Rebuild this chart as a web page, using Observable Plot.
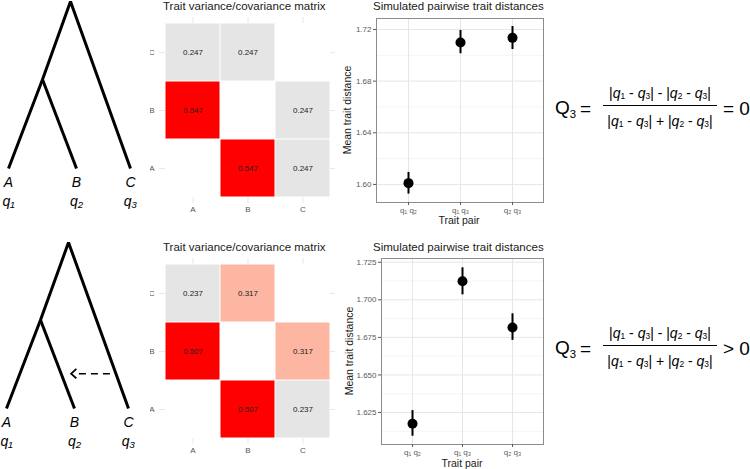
<!DOCTYPE html>
<html><head><meta charset="utf-8">
<script src="https://cdn.jsdelivr.net/npm/d3@7"></script>
<script src="https://cdn.jsdelivr.net/npm/@observablehq/plot@0.6"></script>
<style>
body{margin:0;background:#fff;}
#root{position:relative;width:750px;height:469px;overflow:hidden;font-family:"Liberation Sans",Arial,sans-serif;background:#fff;}
.box{position:absolute;}
.title{position:absolute;font-size:11.5px;color:#1a1a1a;white-space:nowrap;line-height:1;}
.ylab{position:absolute;font-size:10.5px;color:#1a1a1a;white-space:nowrap;line-height:1;transform:translate(-50%,-50%) rotate(-90deg);}
.xlab{position:absolute;font-size:10.5px;color:#1a1a1a;white-space:nowrap;line-height:1;transform:translate(-50%,-50%);}
.f{position:absolute;white-space:nowrap;line-height:1;color:#000;transform:translateY(-50%);}
.big{font-size:19px;}
.fr{font-size:14px;text-align:center;}
.fr sub{font-size:60%;vertical-align:-0.15em;}
.big sub{font-size:60%;vertical-align:-0.4em;}
</style></head><body><div id="root"></div><script>
// ---------- data ----------
const treeNodeNames = ["root", "AB", "A", "B", "C"];
const treeNodeX = [70, 42, 8, 76, 130];
const treeNodeDepth = [0, 0.467, 1, 1, 1];
const treePaths = [["A", "AB", "root", "C"], ["AB", "B"]];
const tipNames = ["A", "B", "C"];
const tipTraits = ["q₁", "q₂", "q₃"];
const migrationFrom = "C", migrationTo = "B", migrationDepth = 0.79;

const heatCols = ["A", "B", "C"];
const heatRows = ["C", "B", "A"];
// rows C,B,A ; columns A,B,C (diagonal empty)
const topCov = [[0.247, 0.247, null], [0.547, null, 0.247], [null, 0.547, 0.247]];
const botCov = [[0.237, 0.317, null], [0.507, null, 0.317], [null, 0.507, 0.237]];

const pairs = ["q₁ q₂", "q₁ q₃", "q₂ q₃"];
const topMean = [1.601, 1.7099, 1.7135];
const topLo = [1.5925, 1.7012, 1.7045];
const topHi = [1.6093, 1.7192, 1.7223];
const botMean = [1.6175, 1.7124, 1.6816];
const botLo = [1.6092, 1.7033, 1.6730];
const botHi = [1.6263, 1.7213, 1.6907];
const topTicks = [1.60, 1.64, 1.68, 1.72];
const topMinor = [1.62, 1.66, 1.70];
const botTicks = [1.625, 1.650, 1.675, 1.700, 1.725];
const botMinor = [1.6125, 1.6375, 1.6625, 1.6875, 1.7125];

const root = document.getElementById("root");
function place(el, left, top, z) {
  const d = document.createElement("div");
  d.className = "box"; d.style.left = left + "px"; d.style.top = top + "px";
  if (z) d.style.zIndex = z;
  d.appendChild(el); root.appendChild(d); return d;
}
function addHTML(html) { root.insertAdjacentHTML("beforeend", html); }
const baseStyle = {fontFamily: "'Liberation Sans', Arial, sans-serif", background: "transparent", overflow: "visible"};

// open chevron pointing left, used as arrow head
const chevron = {draw(ctx, size) { const r = Math.sqrt(size / Math.PI); ctx.moveTo(r * 1.1, -r); ctx.lineTo(0, 0); ctx.lineTo(r * 1.1, r); }};

// ---------- trees ----------
function tree(xRange, yRange, arrow) {
  const node = Object.fromEntries(treeNodeNames.map((n, i) => [n, {x: treeNodeX[i], d: treeNodeDepth[i]}]));
  const pathRows = treePaths.flatMap((p, k) => p.map(n => ({k, x: node[n].x, d: node[n].d})));
  const tips = tipNames.map((n, i) => ({x: node[n].x, d: node[n].d, name: n, trait: tipTraits[i]}));
  const marks = [
    Plot.line(pathRows, {x: "x", y: "d", z: "k", stroke: "black", strokeWidth: 3, strokeLinejoin: "miter", strokeLinecap: "butt"}),
    Plot.text(tips, {x: "x", y: "d", text: "name", dy: 14, fontSize: 14, fontStyle: "italic", fill: "black"}),
    Plot.text(tips, {x: "x", y: "d", text: "trait", dy: 33, fontSize: 14, fontStyle: "italic", fill: "black"})
  ];
  if (arrow) {
    const edgeAt = (a, b, d) => node[a].x + (d - node[a].d) / (node[b].d - node[a].d) * (node[b].x - node[a].x);
    const x1 = edgeAt("root", migrationFrom, migrationDepth) - 6;
    const x2 = edgeAt("AB", migrationTo, migrationDepth) + 10;
    const a = [{x1, x2, d: migrationDepth}];
    marks.push(Plot.link(a, {x1: "x1", x2: d => d.x2 + 4, y1: "d", y2: "d", stroke: "black", strokeWidth: 1.5, strokeDasharray: "7,5"}));
    marks.push(Plot.dot(a, {x: "x2", y: "d", r: 4.8, symbol: chevron, stroke: "black", fill: "none", strokeWidth: 1.8}));
  }
  return Plot.plot({
    width: 150, height: 235, margin: 0,
    x: {domain: [0, 150], range: xRange, axis: null},
    y: {domain: [0, 1], range: yRange, axis: null},
    style: {...baseStyle, background: "white", overflow: "hidden"},
    marks
  });
}
place(tree([0, 150], [1, 168], false), 0, 0, 5);
place(tree([-2, 148], [7, 173], true), 0, 235, 5);

// ---------- heatmaps ----------
function heatmap(cov, height, marginTop, marginBottom) {
  const cells = [];
  heatRows.forEach((r, i) => heatCols.forEach((c, j) => cells.push({x: c, y: r, v: cov[i][j]})));
  const filled = cells.filter(d => d.v != null);
  return Plot.plot({
    width: 205, height, marginLeft: 24, marginRight: 15, marginTop, marginBottom,
    x: {type: "band", domain: heatCols, padding: 0, axis: null},
    y: {type: "band", domain: heatRows, padding: 0, axis: null},
    color: {type: "threshold", domain: [0.3, 0.45], range: ["#e5e5e5", "#fcb6a1", "#ff0000"]},
    style: baseStyle,
    marks: [
      Plot.ruleX(heatCols, {x: d => d, stroke: "#e8e8e8", strokeWidth: 1, insetTop: -6, insetBottom: -6}),
      Plot.ruleY(heatRows, {y: d => d, stroke: "#e8e8e8", strokeWidth: 1, insetLeft: -5, insetRight: -5}),
      Plot.cell(cells, {x: "x", y: "y", fill: "white"}),
      Plot.cell(filled, {x: "x", y: "y", fill: "v", inset: 0.5}),
      Plot.text(filled, {x: "x", y: "y", text: d => d.v.toFixed(3), fontSize: 8, fill: "#222"}),
      Plot.axisX({tickSize: 0, tickPadding: 9, fontSize: 8, color: "#555", label: null}),
      Plot.axisY({tickSize: 0, tickPadding: 10, fontSize: 8, color: "#555", label: null})
    ]
  });
}
place(heatmap(topCov, 235, 23, 38), 140, 0, 1);
place(heatmap(botCov, 234, 29, 31), 140, 235, 1);

// ---------- scatter ----------
function scatter(mean, lo, hi, ticks, minor, fmt, domain, height, marginLeft, marginTop, marginBottom) {
  const data = pairs.map((p, i) => ({p, m: mean[i], lo: lo[i], hi: hi[i]}));
  return Plot.plot({
    width: 210, height, marginLeft, marginRight: 7, marginTop, marginBottom,
    x: {type: "point", domain: pairs, padding: 0.6, axis: null},
    y: {domain, axis: null},
    style: baseStyle,
    marks: [
      Plot.ruleY(minor, {y: d => d, stroke: "#f3f3f3", strokeWidth: 0.8}),
      Plot.ruleY(ticks, {y: d => d, stroke: "#e6e6e6", strokeWidth: 1}),
      Plot.ruleX(pairs, {x: d => d, stroke: "#e6e6e6", strokeWidth: 1}),
      Plot.frame({stroke: "#8c8c8c", strokeWidth: 1}),
      Plot.axisY({ticks, tickFormat: fmt, tickSize: 3, tickPadding: 2, fontSize: 8, color: "#5a5a5a", label: null}),
      Plot.axisX({tickSize: 3, tickPadding: 2, fontSize: 8, color: "#5a5a5a", label: null}),
      Plot.ruleX(data, {x: "p", y1: "lo", y2: "hi", stroke: "black", strokeWidth: 2}),
      Plot.dot(data, {x: "p", y: "m", r: 5, fill: "black"})
    ]
  });
}
place(scatter(topMean, topLo, topHi, topTicks, topMinor, ".2f", [1.586, 1.7285], 235, 36, 18, 33), 340, 0, 1);
place(scatter(botMean, botLo, botHi, botTicks, botMinor, ".3f", [1.6037, 1.7275], 234, 41, 23, 25), 340, 235, 1);

// ---------- titles / labels ----------
addHTML(`<div class="title" style="left:163px;top:1px">Trait variance/covariance matrix</div>`);
addHTML(`<div class="title" style="left:163px;top:242px">Trait variance/covariance matrix</div>`);
addHTML(`<div class="title" style="left:373px;top:1px">Simulated pairwise trait distances</div>`);
addHTML(`<div class="title" style="left:373px;top:242px">Simulated pairwise trait distances</div>`);
addHTML(`<div class="ylab" style="left:347px;top:110px">Mean trait distance</div>`);
addHTML(`<div class="ylab" style="left:349px;top:351px">Mean trait distance</div>`);
addHTML(`<div class="xlab" style="left:459px;top:220px">Trait pair</div>`);
addHTML(`<div class="xlab" style="left:462px;top:463px">Trait pair</div>`);

// ---------- formulas ----------
const num = `|<i>q</i><sub>1</sub> - <i>q</i><sub>3</sub>| - |<i>q</i><sub>2</sub> - <i>q</i><sub>3</sub>|`;
const den = `|<i>q</i><sub>1</sub> - <i>q</i><sub>3</sub>| + |<i>q</i><sub>2</sub> - <i>q</i><sub>3</sub>|`;
function formula(y, rhs) {
  addHTML(`<div class="f big" style="left:555px;top:${y + 4}px">Q<sub>3</sub></div>`);
  addHTML(`<div class="f big" style="left:580px;top:${y + 3}px">=</div>`);
  addHTML(`<div class="f fr" style="left:601px;width:118px;top:${y - 12}px">${num}</div>`);
  addHTML(`<div style="position:absolute;left:603px;width:114px;top:${y}px;height:0;border-top:1px solid #000"></div>`);
  addHTML(`<div class="f fr" style="left:601px;width:118px;top:${y + 16}px">${den}</div>`);
  addHTML(`<div class="f big" style="left:723px;top:${y + 3}px">${rhs}</div>`);
}
formula(105, "= 0");
formula(345, "&gt; 0");
</script></body></html>
